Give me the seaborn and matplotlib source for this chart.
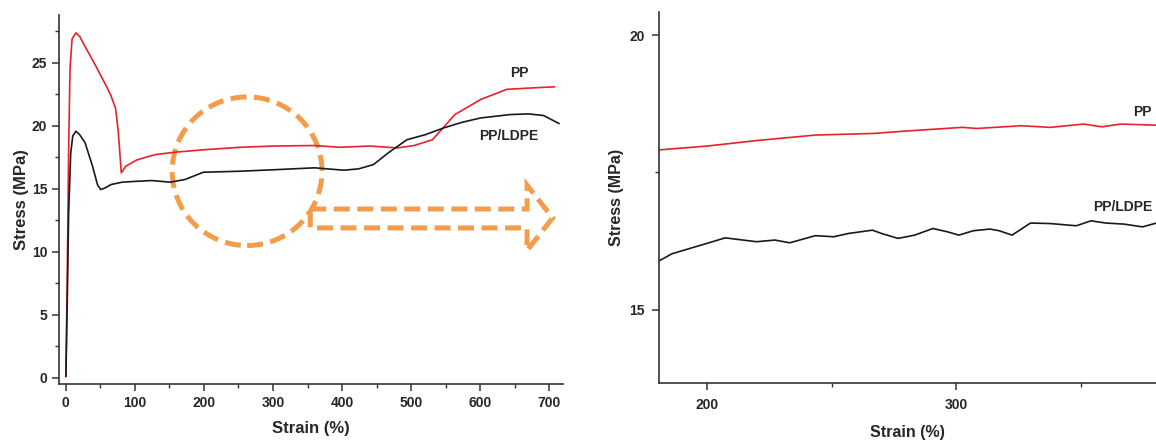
import numpy as np
import pandas as pd
import matplotlib
matplotlib.use("Agg")
import matplotlib.pyplot as plt
from matplotlib.patches import Ellipse, Polygon
import seaborn as sns

# ---- full-range curves (left panel) ----
pp_strain = [0, 2, 4, 6, 9, 14.5, 20, 27.9, 43.9, 60, 65.3, 72, 76, 80.3, 86.8, 102.8, 129.6, 156.4,
             199, 252.8, 301, 360, 397, 440, 480, 504.5, 531, 563.5, 601, 638.5, 670.6, 708]
pp_stress = [0.1, 8, 18, 24.5, 26.9, 27.38, 27.1, 26.3, 24.7, 23.0, 22.4, 21.4, 19.5, 16.27, 16.8,
             17.3, 17.72, 17.9, 18.1, 18.3, 18.4, 18.44, 18.3, 18.4, 18.25, 18.44, 18.9, 20.9, 22.1,
             22.9, 23.0, 23.1]

blend_strain = [0, 2, 4, 7, 10, 14.5, 20, 27.9, 38.6, 46, 50.5, 56, 65.3, 81.4, 102.8, 124.3, 151, 172.5,
                199.2, 252.8, 306.4, 360, 402.8, 424.2, 445.6, 467, 494, 520.6, 547.4, 574.2,
                601, 643.8, 670.6, 692, 714.5]
blend_stress = [0.1, 6, 13, 17.8, 19.2, 19.58, 19.3, 18.65, 16.8, 15.3, 14.95, 15.05, 15.34, 15.53,
                15.6, 15.66, 15.53, 15.74, 16.32, 16.4, 16.53, 16.67, 16.48, 16.59, 16.93, 17.86,
                18.9, 19.3, 19.84, 20.29, 20.63, 20.9, 20.95, 20.82, 20.18]

# ---- zoomed readings (right panel) ----
zpp_strain = [180.7, 200, 219.9, 243.5, 267.1, 278.9, 302.5, 308.4, 326.1, 337.9, 351.2, 358.6, 366, 380.5]
zpp_stress = [17.91, 17.98, 18.08, 18.18, 18.21, 18.25, 18.32, 18.30, 18.35, 18.32, 18.38, 18.33, 18.38, 18.36]

zbl_strain = [180.7, 185.9, 193.3, 200, 207.3, 219.9, 227.3, 233.2, 243.5, 250.9, 256.8, 266.4, 270.1,
              276.7, 283.4, 290.7, 296.6, 301.1, 307.0, 313.6, 317.3, 322.5, 329.9, 338.0, 348.3,
              354.2, 360.1, 367.5, 374.9, 380.5]
zbl_stress = [15.89, 16.02, 16.12, 16.21, 16.31, 16.24, 16.27, 16.22, 16.35, 16.33, 16.39, 16.45, 16.39,
              16.30, 16.36, 16.48, 16.42, 16.36, 16.44, 16.47, 16.44, 16.36, 16.58, 16.57, 16.53,
              16.62, 16.58, 16.56, 16.51, 16.58]

series_names = ["PP", "PP/LDPE"]
line_colors = {"PP": "#e8212b", "PP/LDPE": "#1a1a1a"}

full = pd.concat([
    pd.DataFrame({"strain": pp_strain, "stress": pp_stress, "sample": "PP"}),
    pd.DataFrame({"strain": blend_strain, "stress": blend_stress, "sample": "PP/LDPE"}),
])
zoom = pd.concat([
    pd.DataFrame({"strain": zpp_strain, "stress": zpp_stress, "sample": "PP"}),
    pd.DataFrame({"strain": zbl_strain, "stress": zbl_stress, "sample": "PP/LDPE"}),
])

sns.set_style("ticks")
plt.rcParams["font.family"] = ["Liberation Sans", "DejaVu Sans"]
plt.rcParams["font.weight"] = "bold"

fig = plt.figure(figsize=(11.56, 4.42), dpi=100)
ax1 = fig.add_axes([0.051, 0.131, 0.436, 0.835])
ax2 = fig.add_axes([0.570, 0.1335, 0.430, 0.8395])

for ax, df in [(ax1, full), (ax2, zoom)]:
    sns.lineplot(data=df, x="strain", y="stress", hue="sample", hue_order=series_names,
                 palette=line_colors, estimator=None, sort=False, linewidth=1.2,
                 legend=False, ax=ax)
    ax.spines["top"].set_visible(False)
    ax.spines["right"].set_visible(False)
    for s in ["left", "bottom"]:
        ax.spines[s].set_linewidth(1.2)
        ax.spines[s].set_color("#333333")
    ax.tick_params(which="major", direction="out", length=5, width=1.1, color="#333333",
                   labelsize=10)
    ax.tick_params(which="minor", direction="out", length=3, width=1.0, color="#333333")
    for lab in ax.get_xticklabels() + ax.get_yticklabels():
        lab.set_fontweight("bold")

# left panel
ax1.set_xlim(-10, 720)
ax1.set_ylim(-0.5, 28.8)
ax1.set_xticks(np.arange(0, 701, 100))
ax1.set_xticks(np.arange(50, 701, 100), minor=True)
ax1.set_yticks(np.arange(0, 26, 5))
ax1.set_yticks(np.arange(2.5, 28, 5), minor=True)
ax1.set_xlabel("Strain (%)", fontsize=12, fontweight="bold", labelpad=8)
ax1.set_ylabel("Stress (MPa)", fontsize=12, fontweight="bold", labelpad=2)
ax1.text(657, 24.2, "PP", fontsize=10, fontweight="bold", ha="center", va="center")
ax1.text(641, 19.2, "PP/LDPE", fontsize=10, fontweight="bold", ha="center", va="center")

orange = "#f39c4a"
dash = (0, (3.2, 1.5))
circ = Ellipse((262.5, 16.4), width=217, height=11.8, fill=False, edgecolor=orange,
               linewidth=3.6, linestyle=dash)
ax1.add_patch(circ)
arrow_pts = [(354, 13.4), (668, 13.4), (668, 15.3), (705, 12.7), (668, 10.1),
             (668, 11.9), (354, 11.9)]
arr = Polygon(arrow_pts, closed=True, fill=False, edgecolor=orange, linewidth=3.6,
              linestyle=dash)
ax1.add_patch(arr)

# right panel
ax2.set_xlim(180.7, 380.3)
ax2.set_ylim(13.67, 20.42)
ax2.set_xticks([200, 300])
ax2.set_xticks([250, 350], minor=True)
ax2.set_yticks([15, 20])
ax2.set_yticks([17.5], minor=True)
ax2.xaxis.set_tick_params(pad=6)
ax2.yaxis.set_tick_params(pad=5)
ax2.set_xlabel("Strain (%)", fontsize=11.5, fontweight="bold", labelpad=9)
ax2.set_ylabel("Stress (MPa)", fontsize=11.5, fontweight="bold", labelpad=4)
ax2.text(371, 18.6, "PP", fontsize=10, fontweight="bold", ha="left", va="center", clip_on=False)
ax2.text(355, 16.87, "PP/LDPE", fontsize=10, fontweight="bold", ha="left", va="center", clip_on=False)

fig.savefig("out.png", dpi=100)
